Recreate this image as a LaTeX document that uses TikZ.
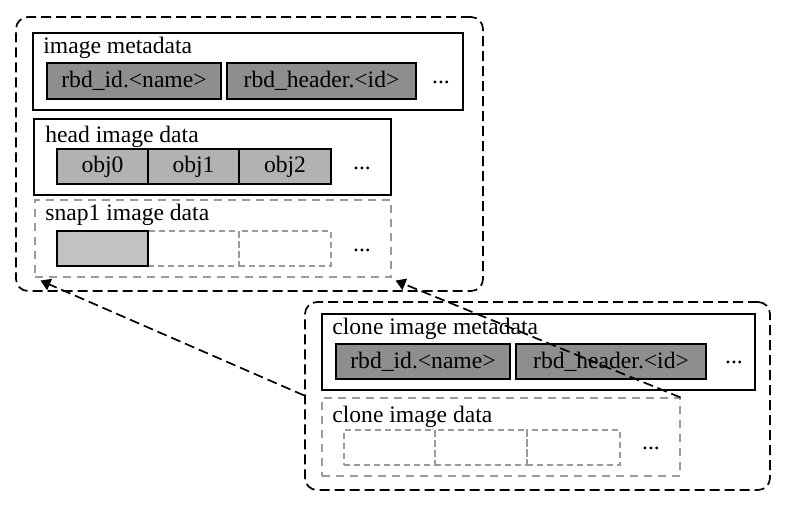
\documentclass[tikz,border=0pt]{standalone}
\usepackage{fontspec}
\setmainfont{Liberation Serif}
\usetikzlibrary{fit,arrows.meta}
\definecolor{darkcell}{HTML}{8E8E8E}
\definecolor{midcell}{HTML}{B2B2B2}
\definecolor{lightcell}{HTML}{C2C2C2}
\definecolor{faintline}{HTML}{9A9A9A}

\tikzset{
  txt/.style={font=\fontsize{11.8}{14}\selectfont},
  group/.style={draw, dash pattern=on 5pt off 2.5pt, rounded corners=6pt, line width=0.85pt, inner sep=0pt},
  panel/.style={draw, line width=0.95pt, inner sep=0pt},
  ghostpanel/.style={draw=faintline, dash pattern=on 4pt off 3pt, line width=0.55pt, inner sep=0pt},
  cell/.style={draw, line width=0.85pt, inner sep=0pt},
  ghostcell/.style={draw=faintline, dash pattern=on 3pt off 2pt, line width=0.55pt, inner sep=0pt},
  title/.style={anchor=base west, inner sep=0pt, txt},
  more/.style={inner sep=0pt, txt},
  link/.style={draw, dash pattern=on 5pt off 2.5pt, line width=0.85pt, -{Triangle[width=6pt,length=5pt]}}
}

\begin{document}
\begin{tikzpicture}[x=0.5pt,y=-0.5pt]
  \useasboundingbox (0,0) rectangle (795,505);

  % parent image
  \node[group, fit={(16,17) (483,291)}] (parent) {};
  \node[panel, fit={(33,33) (463,110)}] (meta) {};
  \node[title] (meta-lbl) at (43,53) {image metadata};
  \node[cell, fill=darkcell, fit={(47,63) (221,99)}, label={[txt]center:rbd\_id.<name>}] (meta-id) {};
  \node[cell, fill=darkcell, fit={(227,63) (416,99)}, label={[txt]center:rbd\_header.<id>}] (meta-hdr) {};
  \node[more] (meta-more) at (441,82) {...};

  \node[panel, fit={(34,119) (391,195)}] (head) {};
  \node[title] (head-lbl) at (45,142) {head image data};
  \node[cell, fill=midcell, fit={(57,149) (148,184)}, label={[txt]center:obj0}] (obj0) {};
  \node[cell, fill=midcell, fit={(148,149) (239,184)}, label={[txt]center:obj1}] (obj1) {};
  \node[cell, fill=midcell, fit={(239,149) (331,184)}, label={[txt]center:obj2}] (obj2) {};
  \node[more] (head-more) at (362,168) {...};

  \node[ghostpanel, fit={(35,200) (391,277)}] (snap) {};
  \node[title] (snap-lbl) at (45,220) {snap1 image data};
  \node[ghostcell, fit={(148,231) (239,266)}] (snap-c1) {};
  \node[ghostcell, fit={(239,231) (331,266)}] (snap-c2) {};
  \node[cell, fill=lightcell, fit={(57,231) (148,266)}] (snap-c0) {};
  \node[more] (snap-more) at (362,250) {...};

  % clone image
  \node[group, fit={(305,302) (770,490)}] (clone) {};
  \node[panel, fit={(322,314) (755,390)}] (clonemeta) {};
  \node[title] (clonemeta-lbl) at (332,334) {clone image metadata};
  \node[cell, fill=darkcell, fit={(336,344) (510,379)}, label={[txt]center:rbd\_id.<name>}] (clone-id) {};
  \node[cell, fill=darkcell, fit={(516,344) (706,379)}, label={[txt]center:rbd\_header.<id>}] (clone-hdr) {};
  \node[more] (clonemeta-more) at (734,362) {...};

  \node[ghostpanel, fit={(322,398) (680,476)}] (clonedata) {};
  \node[title] (clonedata-lbl) at (332,422) {clone image data};
  \node[ghostcell, fit={(344,430) (435,465)}] (clone-c0) {};
  \node[ghostcell, fit={(435,430) (527,465)}] (clone-c1) {};
  \node[ghostcell, fit={(527,430) (620,465)}] (clone-c2) {};
  \node[more] (clonedata-more) at (651,448) {...};

  % parent links
  \draw[link] ([yshift=1pt]clone.west |- clonedata.north) -- ([xshift=3pt,yshift=-1.5pt]snap.south west);
  \draw[link] (clonedata.north east) -- ([xshift=2pt,yshift=-1.5pt]snap.south east);
\end{tikzpicture}
\end{document}
